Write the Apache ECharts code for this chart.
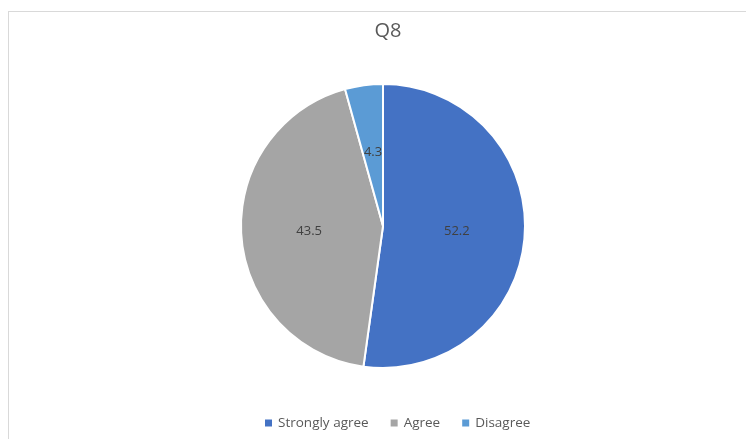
<!DOCTYPE html>
<html>
<head>
<meta charset="utf-8">
<script src="https://cdn.jsdelivr.net/npm/echarts@6/dist/echarts.min.js"></script>
<style>
html,body{margin:0;padding:0;background:#fff;}
#frame{position:absolute;left:8px;top:11px;width:760px;height:440px;border:1px solid #d9d9d9;box-sizing:border-box;}
#chart{position:absolute;left:0;top:0;width:746px;height:439px;}
</style>
</head>
<body>
<div id="frame"></div>
<div id="chart"></div>
<script>
const categories = ['Strongly agree', 'Agree', 'Disagree'];
const values = [52.2, 43.5, 4.3];
const colors = ['#4472C4', '#A5A5A5', '#5B9BD5'];

const chart = echarts.init(document.getElementById('chart'));
chart.setOption({
  animation: false,
  title: {
    text: 'Q8', left: 383, textAlign: 'center', top: 16,
    textStyle: {fontFamily: 'Open Sans', fontSize: 20, fontWeight: 'normal', color: '#595959'}
  },
  legend: {
    bottom: 4, left: 258, itemWidth: 9, itemHeight: 9, itemGap: 20, icon: 'rect',
    textStyle: {fontFamily: 'Open Sans', fontSize: 13.5, color: '#595959'},
    data: categories
  },
  series: [{
    type: 'pie',
    center: [383, 226],
    radius: 142,
    startAngle: 90,
    clockwise: true,
    label: {
      show: true, position: 'inside', formatter: '{c}',
      fontFamily: 'Open Sans', fontSize: 13, color: '#404040'
    },
    labelLine: {show: false},
    itemStyle: {borderColor: '#fff', borderWidth: 2},
    emphasis: {disabled: true},
    data: categories.map((c, i) => ({name: c, value: values[i], itemStyle: {color: colors[i]}}))
  }]
});
</script>
</body>
</html>
